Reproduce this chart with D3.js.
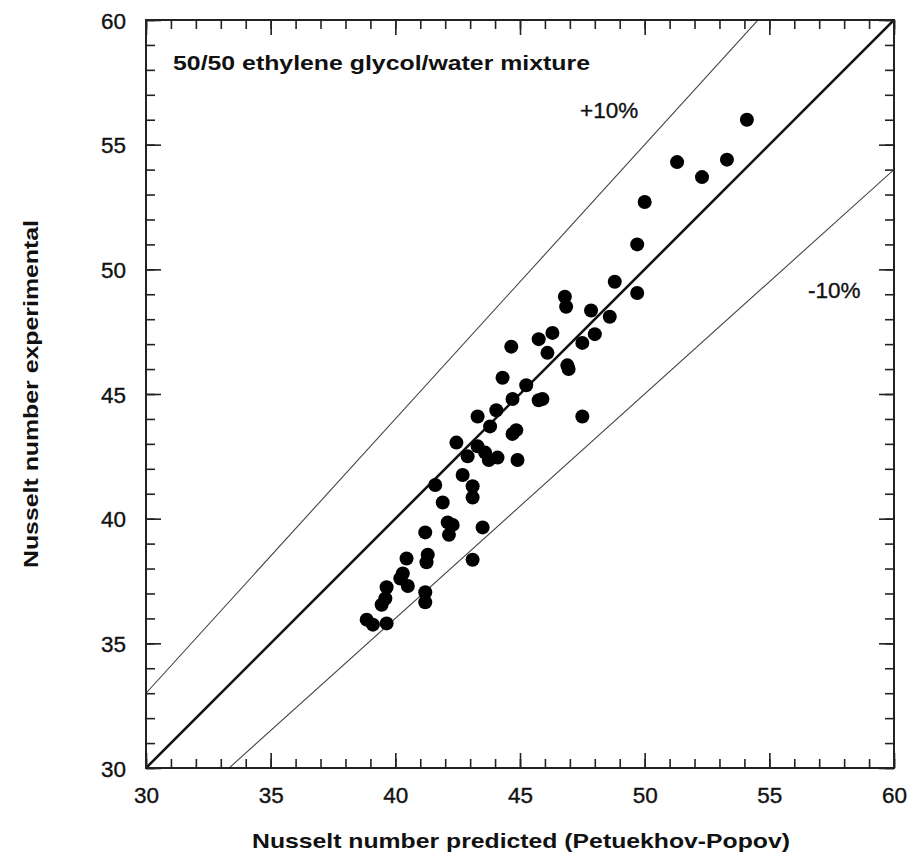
<!DOCTYPE html>
<html>
<head>
<meta charset="utf-8">
<script src="https://cdn.jsdelivr.net/npm/d3@7"></script>
<style>
  html, body { margin: 0; padding: 0; background: #fff; }
  svg { display: block; }
  text { font-family: "Liberation Sans", Arial, sans-serif; fill: #111; }
</style>
</head>
<body>
<script>
// ---- data ----
const predicted = [
  54.1, 51.3, 52.3, 53.3, 50.0, 49.7, 49.7, 48.8, 46.8, 46.85,
  47.85, 48.6, 48.0, 47.5, 46.3, 45.75, 46.1, 46.9, 46.95, 44.65,
  44.3, 45.25, 45.75, 45.9, 47.5, 44.7, 44.05, 43.3, 43.8, 44.85,
  44.7, 42.45, 43.3, 43.6, 42.9, 43.75, 44.1, 44.9, 42.7, 41.6,
  43.1, 43.1, 41.9, 42.1, 42.3, 41.2, 42.15, 43.5, 43.1, 40.45,
  41.3, 41.25, 40.3, 40.2, 40.5, 39.65, 39.6, 39.45, 41.2, 41.2,
  38.85, 39.1, 39.65
];
const experimental = [
  56.0, 54.3, 53.7, 54.4, 52.7, 51.0, 49.05, 49.5, 48.9, 48.5,
  48.35, 48.1, 47.4, 47.05, 47.45, 47.2, 46.65, 46.15, 46.0, 46.9,
  45.65, 45.35, 44.75, 44.8, 44.1, 44.8, 44.35, 44.1, 43.7, 43.55,
  43.4, 43.05, 42.9, 42.65, 42.5, 42.35, 42.45, 42.35, 41.75, 41.35,
  41.3, 40.85, 40.65, 39.85, 39.75, 39.45, 39.35, 39.65, 38.35, 38.4,
  38.55, 38.25, 37.8, 37.6, 37.3, 37.25, 36.8, 36.55, 37.05, 36.65,
  35.95, 35.75, 35.8
];
const majorTicks = [30, 35, 40, 45, 50, 55, 60];
const minorTicks = d3.range(30, 61, 1);
const refRatios = [1.0, 1.1, 0.9];          // 1:1, +10%, -10%
const refLabels = ["+10%", "-10%"];
const annotation = "50/50 ethylene glycol/water mixture";
const xTitle = "Nusselt number predicted (Petuekhov-Popov)";
const yTitle = "Nusselt number experimental";
const domain = [30, 60];

// ---- layout ----
const W = 911, H = 857;
const m = { left: 146, right: 17, top: 20, bottom: 89 };
const iw = W - m.left - m.right, ih = H - m.top - m.bottom;

const svg = d3.select("body").append("svg").attr("width", W).attr("height", H);
const g = svg.append("g").attr("transform", `translate(${m.left},${m.top})`);

const x = d3.scaleLinear().domain(domain).range([0, iw]);
const y = d3.scaleLinear().domain(domain).range([ih, 0]);

svg.append("defs").append("clipPath").attr("id", "clip")
  .append("rect").attr("width", iw).attr("height", ih);

// reference lines
const lineGen = d3.line().x(d => x(d[0])).y(d => y(d[1]));
const refG = g.append("g").attr("clip-path", "url(#clip)");
refRatios.forEach((r, i) => {
  const pts = [[domain[0], domain[0] * r], [domain[1], domain[1] * r]];
  refG.append("path").attr("d", lineGen(pts))
    .attr("fill", "none")
    .attr("stroke", i === 0 ? "#111" : "#444")
    .attr("stroke-width", i === 0 ? 2.6 : 1.1);
});

// points
g.append("g").selectAll("circle")
  .data(predicted.map((p, i) => [p, experimental[i]]))
  .join("circle")
  .attr("cx", d => x(d[0]))
  .attr("cy", d => y(d[1]))
  .attr("r", 7)
  .attr("fill", "#000");

// axes with inward ticks on all four sides
function styleAxis(sel) {
  sel.select(".domain").remove();
  sel.selectAll("line").attr("stroke", "#222").attr("stroke-width", 1.6);
}
function styleLabels(sel) {
  sel.selectAll("text").attr("font-size", 22.5).attr("fill", "#111")
    .attr("stroke", "#111").attr("stroke-width", 0.35);
}
const tickLenMajor = 15, tickLenMinor = 9;

// bottom
g.append("g").attr("transform", `translate(0,${ih})`)
  .call(d3.axisBottom(x).tickValues(minorTicks).tickSizeInner(-tickLenMinor).tickSizeOuter(0).tickFormat(""))
  .call(styleAxis);
g.append("g").attr("transform", `translate(0,${ih})`)
  .call(d3.axisBottom(x).tickValues(majorTicks).tickSizeInner(-tickLenMajor).tickSizeOuter(0).tickFormat(d3.format("d")))
  .call(styleAxis)
  .call(styleLabels)
  .call(s => s.selectAll("text").attr("dy", null).attr("y", 35));
// top
g.append("g")
  .call(d3.axisTop(x).tickValues(minorTicks).tickSizeInner(-tickLenMinor).tickSizeOuter(0).tickFormat(""))
  .call(styleAxis);
g.append("g")
  .call(d3.axisTop(x).tickValues(majorTicks).tickSizeInner(-tickLenMajor).tickSizeOuter(0).tickFormat(""))
  .call(styleAxis);
// left
g.append("g")
  .call(d3.axisLeft(y).tickValues(minorTicks).tickSizeInner(-tickLenMinor).tickSizeOuter(0).tickFormat(""))
  .call(styleAxis);
g.append("g")
  .call(d3.axisLeft(y).tickValues(majorTicks).tickSizeInner(-tickLenMajor).tickSizeOuter(0).tickFormat(d3.format("d")))
  .call(styleAxis)
  .call(styleLabels)
  .call(s => s.selectAll("text").attr("x", -20).attr("dy", "0.36em"));
// right
g.append("g").attr("transform", `translate(${iw},0)`)
  .call(d3.axisRight(y).tickValues(minorTicks).tickSizeInner(-tickLenMinor).tickSizeOuter(0).tickFormat(""))
  .call(styleAxis);
g.append("g").attr("transform", `translate(${iw},0)`)
  .call(d3.axisRight(y).tickValues(majorTicks).tickSizeInner(-tickLenMajor).tickSizeOuter(0).tickFormat(""))
  .call(styleAxis);

// frame
g.append("rect").attr("width", iw).attr("height", ih)
  .attr("fill", "none").attr("stroke", "#222").attr("stroke-width", 2);

// annotation
svg.append("text").attr("x", 173).attr("y", 70)
  .attr("font-size", 21).attr("font-weight", "bold")
  .attr("textLength", 417).attr("lengthAdjust", "spacingAndGlyphs")
  .text(annotation);
svg.append("text").attr("x", 580).attr("y", 118)
  .attr("font-size", 22.5).attr("stroke", "#111").attr("stroke-width", 0.35)
  .text(refLabels[0]);
svg.append("text").attr("x", 808).attr("y", 298)
  .attr("font-size", 22.5).attr("stroke", "#111").attr("stroke-width", 0.35)
  .text(refLabels[1]);

// axis titles
svg.append("text").attr("x", 252).attr("y", 848)
  .attr("font-size", 21).attr("font-weight", "bold")
  .attr("textLength", 538).attr("lengthAdjust", "spacingAndGlyphs")
  .text(xTitle);
svg.append("text")
  .attr("transform", `translate(38,568) rotate(-90)`)
  .attr("font-size", 21).attr("font-weight", "bold")
  .attr("textLength", 348).attr("lengthAdjust", "spacingAndGlyphs")
  .text(yTitle);
</script>
</body>
</html>
